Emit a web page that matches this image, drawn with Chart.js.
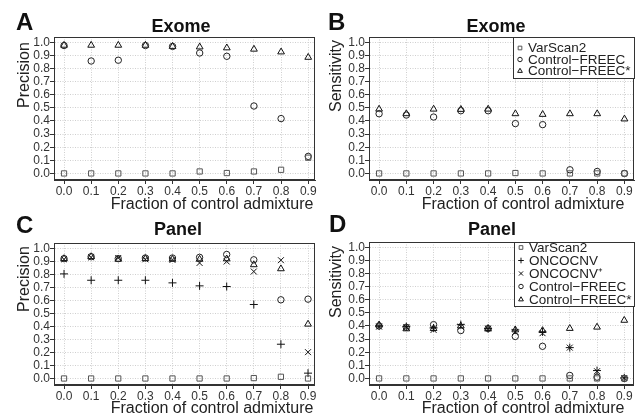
<!DOCTYPE html>
<html>
<head>
<meta charset="utf-8">
<script src="https://cdn.jsdelivr.net/npm/chart.js@4.4.1/dist/chart.umd.min.js"></script>
<style>
  body { margin: 0; background: #fff; }
  #wrap { position: relative; width: 639px; height: 419px; }
  canvas { position: absolute; }
</style>
</head>
<body>
<div id="wrap">
  <canvas id="chartA" width="320" height="210" style="left:0;top:0"></canvas>
  <canvas id="chartB" width="319" height="210" style="left:320px;top:0"></canvas>
  <canvas id="chartC" width="320" height="209" style="left:0;top:210px"></canvas>
  <canvas id="chartD" width="319" height="209" style="left:320px;top:210px"></canvas>
</div>
<script>
"use strict";

let fractions = [0.0, 0.1, 0.2, 0.3, 0.4, 0.5, 0.6, 0.7, 0.8, 0.9];
let xTicks = [0.0, 0.1, 0.2, 0.3, 0.4, 0.5, 0.6, 0.7, 0.8, 0.9];
let yTicks = [0.0, 0.1, 0.2, 0.3, 0.4, 0.5, 0.6, 0.7, 0.8, 0.9, 1.0];

// A: exome precision
let exomePrecVarScan = [0, 0, 0, 0, 0, 0.015, 0.003, 0.015, 0.028, 0.12];
let exomePrecFreec = [0.975, 0.857, 0.863, 0.975, 0.968, 0.918, 0.893, 0.514, 0.418, 0.13];
let exomePrecFreecStar = [0.977, 0.977, 0.977, 0.977, 0.968, 0.964, 0.957, 0.947, 0.926, 0.885];

// B: exome sensitivity
let exomeSensVarScan = [0, 0, 0, 0, 0, 0.003, 0, 0, 0, 0];
let exomeSensFreec = [0.455, 0.445, 0.43, 0.478, 0.478, 0.38, 0.372, 0.028, 0.015, 0.0];
let exomeSensFreecStar = [0.49, 0.455, 0.49, 0.488, 0.49, 0.455, 0.45, 0.455, 0.455, 0.415];

// C: panel precision
let panelPrecVarScan = [0, 0, 0, 0, 0, 0, 0, 0.003, 0.013, 0];
let panelPrecOnco = [0.803, 0.754, 0.754, 0.754, 0.734, 0.711, 0.706, 0.568, 0.263, 0.041];
let panelPrecOncoPlus = [0.915, 0.93, 0.925, 0.915, 0.91, 0.887, 0.898, 0.821, 0.908, 0.202];
let panelPrecFreec = [0.92, 0.935, 0.92, 0.925, 0.925, 0.93, 0.952, 0.911, 0.604, 0.609];
let panelPrecFreecStar = [0.92, 0.935, 0.915, 0.92, 0.915, 0.915, 0.918, 0.873, 0.842, 0.417];

// D: panel sensitivity
let panelSensVarScan = [0, 0, 0, 0, 0, 0, 0, 0, 0, 0];
let panelSensOnco = [0.40, 0.395, 0.385, 0.41, 0.38, 0.37, 0.355, 0.235, 0.06, 0.005];
let panelSensOncoPlus = [0.395, 0.39, 0.37, 0.395, 0.38, 0.355, 0.345, 0.235, 0.055, 0.003];
let panelSensFreec = [0.40, 0.39, 0.41, 0.365, 0.38, 0.32, 0.245, 0.023, 0.01, 0.0];
let panelSensFreecStar = [0.408, 0.378, 0.38, 0.40, 0.38, 0.37, 0.365, 0.381, 0.391, 0.443];

let fontFamily = '"Liberation Sans", Arial, Helvetica, sans-serif';

let markerStyles = {
  "VarScan2": { pointStyle: "rect", color: "#555", radius: 3.7 },
  "ONCOCNV": { pointStyle: "cross", color: "#111", radius: 4 },
  "ONCOCNV\u207A": { pointStyle: "crossRot", color: "#111", radius: 4.2 },
  "Control\u2212FREEC": { pointStyle: "circle", color: "#222", radius: 3.2 },
  "Control\u2212FREEC*": { pointStyle: "triangle", color: "#111", radius: 3.9 }
};

function toPoints(values) {
  return values.map((v, i) => ({ x: fractions[i], y: v }));
}

// frame, panel letter, titles and the boxed legend
const panelDecor = {
  id: "panelDecor",
  afterDraw(chart, args, o) {
    const ctx = chart.ctx;
    const a = chart.chartArea;
    ctx.save();
    ctx.strokeStyle = "#333";
    ctx.lineWidth = 1;
    ctx.strokeRect(Math.round(a.left) + 0.5, Math.round(a.top) + 0.5, Math.round(a.right - a.left) - 1, Math.round(a.bottom - a.top) - 1);

    ctx.fillStyle = "#111";
    ctx.textBaseline = "alphabetic";
    ctx.font = "bold 24px " + fontFamily;
    ctx.textAlign = "left";
    ctx.fillText(o.letter, o.letterX, o.letterY);

    ctx.font = "bold 18px " + fontFamily;
    ctx.textAlign = "center";
    ctx.fillText(o.title, o.titleX, o.titleY);

    ctx.fillStyle = "#222";
    ctx.font = "16px " + fontFamily;
    ctx.fillText(o.xTitle, o.xTitleX, o.xTitleY);

    ctx.save();
    ctx.translate(o.yTitleX, o.yTitleY);
    ctx.rotate(-Math.PI / 2);
    ctx.fillText(o.yTitle, 0, 0);
    ctx.restore();

    if (o.legend) {
      const lg = o.legend;
      ctx.fillStyle = "#fff";
      ctx.fillRect(lg.left, lg.top, lg.right - lg.left, lg.bottom - lg.top);
      ctx.strokeStyle = "#333";
      ctx.strokeRect(lg.left + 0.5, lg.top + 0.5, lg.right - lg.left - 1, lg.bottom - lg.top - 1);
      ctx.font = "13.5px " + fontFamily;
      ctx.textAlign = "left";
      ctx.textBaseline = "middle";
      lg.names.forEach((name, i) => {
        const st = markerStyles[name];
        const y = lg.firstY + i * lg.step;
        ctx.strokeStyle = st.color;
        ctx.fillStyle = "rgba(0,0,0,0)";
        ctx.lineWidth = 1;
        Chart.helpers.drawPoint(ctx, { pointStyle: st.pointStyle, radius: st.radius * 0.7, rotation: 0, borderWidth: 1 }, lg.markerX, y);
        ctx.fillStyle = "#222";
        ctx.fillText(name, lg.textX, y + 0.5);
      });
    }
    ctx.restore();
  }
};

function makePanel(canvasId, cfg) {
  const canvas = document.getElementById(canvasId);
  const w = canvas.width;
  const h = canvas.height;
  const area = cfg.area;

  const datasets = cfg.series.map(s => {
    const st = markerStyles[s.name];
    return {
      label: s.name,
      data: toPoints(s.values),
      pointStyle: st.pointStyle,
      pointRadius: st.radius,
      pointBorderColor: st.color,
      pointBackgroundColor: "rgba(0,0,0,0)",
      pointBorderWidth: 1,
      showLine: false
    };
  });

  const tickFont = { family: fontFamily, size: 12 };
  const gridOpts = { color: "#cfcfcf", tickColor: "#333", tickLength: 4, lineWidth: 1 };
  const borderOpts = { color: "#333", width: 1, dash: [1, 1.5] };

  return new Chart(canvas.getContext("2d"), {
    type: "scatter",
    data: { datasets: datasets },
    options: {
      responsive: false,
      animation: false,
      devicePixelRatio: 1,
      layout: { padding: { top: area.top, right: w - area.right, left: 0, bottom: 0 } },
      plugins: {
        legend: { display: false },
        tooltip: { enabled: false },
        panelDecor: cfg.decor
      },
      scales: {
        x: {
          type: "linear",
          min: -0.037,
          max: cfg.xMax,
          afterBuildTicks: s => { s.ticks = xTicks.map(v => ({ value: v })); },
          afterFit: s => { s.height = h - area.bottom; },
          ticks: { callback: v => v.toFixed(1), font: tickFont, color: "#333", padding: 0, maxRotation: 0, autoSkip: false },
          grid: gridOpts,
          border: borderOpts
        },
        y: {
          type: "linear",
          min: -0.05,
          max: 1.04,
          afterBuildTicks: s => { s.ticks = yTicks.map(v => ({ value: v })); },
          afterFit: s => { s.width = area.left; },
          ticks: { callback: v => v.toFixed(1), font: tickFont, color: "#333", padding: 0, autoSkip: false },
          grid: gridOpts,
          border: borderOpts
        }
      }
    },
    plugins: [panelDecor]
  });
}

makePanel("chartA", {
  area: { left: 54, top: 37, right: 316, bottom: 180 },
  xMax: 0.925,
  series: [
    { name: "VarScan2", values: exomePrecVarScan },
    { name: "Control\u2212FREEC", values: exomePrecFreec },
    { name: "Control\u2212FREEC*", values: exomePrecFreecStar }
  ],
  decor: {
    letter: "A", letterX: 16, letterY: 30,
    title: "Exome", titleX: 181, titleY: 32,
    xTitle: "Fraction of control admixture", xTitleX: 212, xTitleY: 209,
    yTitle: "Precision", yTitleX: 28.5, yTitleY: 75
  }
});

makePanel("chartB", {
  area: { left: 49, top: 37, right: 315, bottom: 180 },
  xMax: 0.935,
  series: [
    { name: "VarScan2", values: exomeSensVarScan },
    { name: "Control\u2212FREEC", values: exomeSensFreec },
    { name: "Control\u2212FREEC*", values: exomeSensFreecStar }
  ],
  decor: {
    letter: "B", letterX: 8, letterY: 30,
    title: "Exome", titleX: 176, titleY: 32,
    xTitle: "Fraction of control admixture", xTitleX: 203, xTitleY: 209,
    yTitle: "Sensitivity", yTitleX: 21, yTitleY: 76,
    legend: {
      left: 193, top: 37, right: 315, bottom: 79,
      names: ["VarScan2", "Control\u2212FREEC", "Control\u2212FREEC*"],
      firstY: 48, step: 11.5, markerX: 200, textX: 208
    }
  }
});

makePanel("chartC", {
  area: { left: 54, top: 33, right: 316, bottom: 175 },
  xMax: 0.925,
  series: [
    { name: "VarScan2", values: panelPrecVarScan },
    { name: "ONCOCNV", values: panelPrecOnco },
    { name: "ONCOCNV\u207A", values: panelPrecOncoPlus },
    { name: "Control\u2212FREEC", values: panelPrecFreec },
    { name: "Control\u2212FREEC*", values: panelPrecFreecStar }
  ],
  decor: {
    letter: "C", letterX: 16, letterY: 23,
    title: "Panel", titleX: 178, titleY: 25,
    xTitle: "Fraction of control admixture", xTitleX: 212, xTitleY: 203,
    yTitle: "Precision", yTitleX: 28.5, yTitleY: 69
  }
});

makePanel("chartD", {
  area: { left: 49, top: 32, right: 315, bottom: 175 },
  xMax: 0.935,
  series: [
    { name: "VarScan2", values: panelSensVarScan },
    { name: "ONCOCNV", values: panelSensOnco },
    { name: "ONCOCNV\u207A", values: panelSensOncoPlus },
    { name: "Control\u2212FREEC", values: panelSensFreec },
    { name: "Control\u2212FREEC*", values: panelSensFreecStar }
  ],
  decor: {
    letter: "D", letterX: 9, letterY: 22,
    title: "Panel", titleX: 172, titleY: 25,
    xTitle: "Fraction of control admixture", xTitleX: 203, xTitleY: 203,
    yTitle: "Sensitivity", yTitleX: 21, yTitleY: 72,
    legend: {
      left: 194, top: 32, right: 315, bottom: 97,
      names: ["VarScan2", "ONCOCNV", "ONCOCNV\u207A", "Control\u2212FREEC", "Control\u2212FREEC*"],
      firstY: 37.5, step: 13, markerX: 201, textX: 209
    }
  }
});
</script>
</body>
</html>
